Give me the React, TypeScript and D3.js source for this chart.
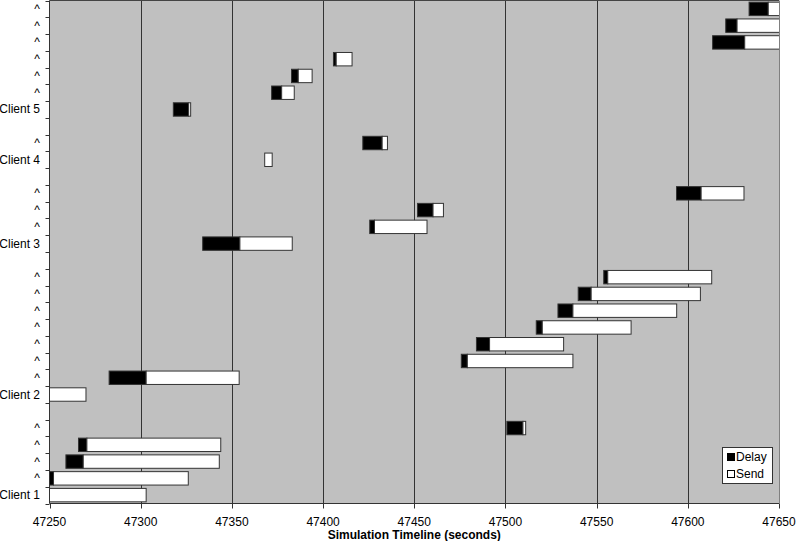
import React from "react";
import * as d3 from "d3";

// Rows listed from bottom (Client 1) to top
const categories: string[] = [
  "Client 1", "^", "^", "^", "^", "",
  "Client 2", "^", "^", "^", "^", "^", "^", "^", "",
  "Client 3", "^", "^", "^", "",
  "Client 4", "^", "",
  "Client 5", "^", "^", "^", "^", "^", "^",
];

// invisible offset series (start time)
const startValues: (number | null)[] = [
  47250, 47250, 47259, 47265.9, 47500.8, null,
  47250, 47282.7, 47475.8, 47484.1, 47516.9, 47528.8, 47539.9, 47553.9, null,
  47334, 47425.6, 47451.8, 47593.8, null,
  47368, 47421.8, null,
  47317.9, 47371.8, 47382.7, 47405.7, 47613.6, 47620.8, 47633.6,
];

const delayValues: (number | null)[] = [
  0, 2.2, 9.5, 4.6, 8.8, null,
  0, 20.3, 3.3, 7.2, 3.3, 8.2, 7.1, 2.2, null,
  20.4, 2.6, 8.5, 13.5, null,
  0, 10.6, null,
  8.4, 5.5, 3.7, 1.5, 17.6, 6.2, 10.5,
];

const sendValues: (number | null)[] = [
  53, 73.9, 74.6, 73.4, 1.5, null,
  20, 51, 57.9, 40.6, 48.7, 56.9, 59.9, 57, null,
  28.7, 28.8, 5.7, 23.5, null,
  4.1, 2.9, null,
  1.1, 6.9, 7.6, 8.7, 56, 58, 57,
];

const xTicks: number[] = [47250, 47300, 47350, 47400, 47450, 47500, 47550, 47600, 47650];
const seriesNames: string[] = ["Delay", "Send"];
const xTitle = "Simulation Timeline (seconds)";

const W = 796;
const H = 541;
const plotLeft = 49.5;
const plotRight = 779;
const plotTop = 0.5;
const plotBottom = 503.5;
const FONT = "'Liberation Sans', Arial, sans-serif";

export default function App() {
  const x = d3.scaleLinear().domain([47250, 47650]).range([plotLeft, plotRight]);
  const idx = categories.map((_, i) => String(i));
  const y = d3
    .scaleBand<string>()
    .domain(idx)
    .range([plotBottom, plotTop])
    .paddingInner(0.2)
    .paddingOuter(0.1);
  const step = y.step();
  const boundaries = d3.range(categories.length + 1).map((k) => plotBottom - k * step);

  const rows = categories.map((c, i) => ({
    key: idx[i],
    label: c,
    start: startValues[i],
    delay: delayValues[i],
    send: sendValues[i],
  }));

  return (
    <svg
      width={W}
      height={H}
      style={{ position: "absolute", left: 0, top: 0, background: "#fff" }}
      fontFamily={FONT}
    >
      <defs>
        <clipPath id="plotClip">
          <rect x={plotLeft} y={plotTop - 1} width={plotRight - plotLeft} height={plotBottom - plotTop + 2} />
        </clipPath>
      </defs>
      {/* plot background */}
      <rect x={plotLeft} y={plotTop} width={plotRight - plotLeft} height={plotBottom - plotTop} fill="#c0c0c0" />
      {/* gridlines */}
      {xTicks.slice(1).map((t) => (
        <line
          key={"g" + t}
          x1={Math.round(x(t)) + 0.5}
          x2={Math.round(x(t)) + 0.5}
          y1={plotTop}
          y2={plotBottom}
          stroke={t === 47650 ? "#808080" : "#333"}
          strokeWidth={1}
        />
      ))}
      {/* top border */}
      <line x1={plotLeft} x2={plotRight} y1={plotTop} y2={plotTop} stroke="#444" strokeWidth={1} />
      {/* bars */}
      <g clipPath="url(#plotClip)">
        {rows.map((r) => {
          if (r.start == null) return null;
          const yy = y(r.key)!;
          const bh = y.bandwidth();
          const d = r.delay ?? 0;
          const s = r.send ?? 0;
          const x0 = x(r.start);
          const x1 = x(r.start + d);
          const x2 = x(r.start + d + s);
          return (
            <g key={"b" + r.key}>
              {d > 0 && (
                <rect x={x0} y={yy} width={x1 - x0} height={bh} fill="#000" stroke="#333" strokeWidth={1} />
              )}
              {s > 0 && (
                <rect x={x1} y={yy} width={x2 - x1} height={bh} fill="#fff" stroke="#333" strokeWidth={1} />
              )}
            </g>
          );
        })}
      </g>
      {/* y axis */}
      <line x1={plotLeft} x2={plotLeft} y1={plotTop} y2={plotBottom} stroke="#333" />
      {boundaries.map((b, k) => (
        <line key={"yt" + k} x1={plotLeft - 4} x2={plotLeft} y1={Math.round(b) + 0.5} y2={Math.round(b) + 0.5} stroke="#333" />
      ))}
      {rows.map((r) => (
        <text
          key={"yl" + r.key}
          x={40}
          y={y(r.key)! + y.bandwidth() / 2 + 4}
          textAnchor="end"
          fontSize={12}
          fill="#000"
        >
          {r.label}
        </text>
      ))}
      {/* x axis */}
      <line x1={plotLeft} x2={plotRight} y1={plotBottom} y2={plotBottom} stroke="#333" />
      {xTicks.map((t) => (
        <g key={"xt" + t}>
          <line x1={Math.round(x(t)) + 0.5} x2={Math.round(x(t)) + 0.5} y1={plotBottom} y2={plotBottom + 5} stroke="#333" />
          <text x={x(t)} y={526} textAnchor="middle" fontSize={12} fill="#000">
            {t}
          </text>
        </g>
      ))}
      <text x={(plotLeft + plotRight) / 2} y={539} textAnchor="middle" fontSize={12} fontWeight="bold" fill="#000">
        {xTitle}
      </text>
      {/* legend */}
      <g>
        <rect x={722.5} y={447.5} width={50} height={36} fill="#fff" stroke="#333" />
        {seriesNames.map((n, i) => (
          <g key={"lg" + n}>
            <rect
              x={727.5}
              y={453.5 + i * 17}
              width={7}
              height={7}
              fill={i === 0 ? "#000" : "#fff"}
              stroke="#000"
            />
            <text x={736} y={461 + i * 17} fontSize={12} fill="#000">
              {n}
            </text>
          </g>
        ))}
      </g>
    </svg>
  );
}
